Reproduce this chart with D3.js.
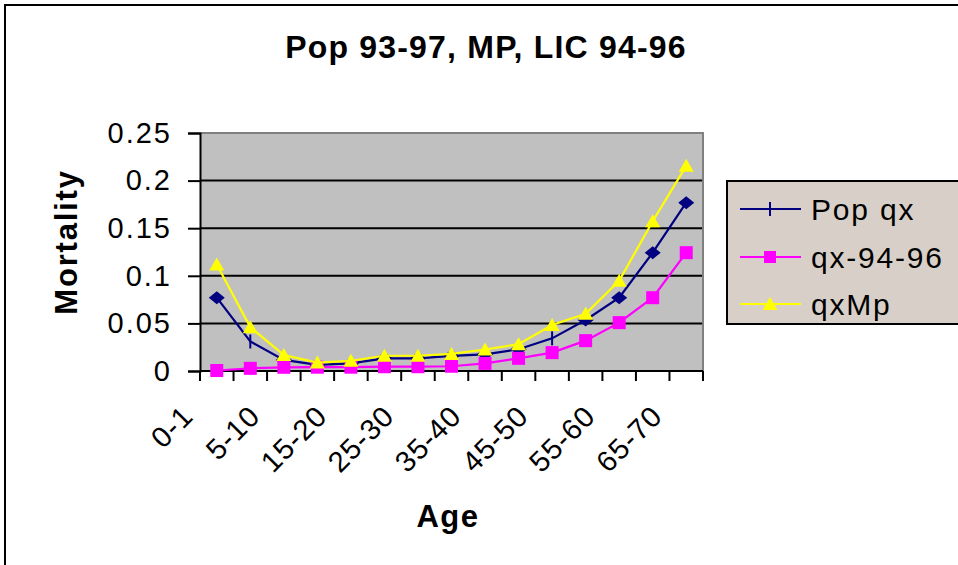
<!DOCTYPE html>
<html>
<head>
<meta charset="utf-8">
<script src="https://cdn.jsdelivr.net/npm/d3@7"></script>
<style>
  html, body { margin: 0; padding: 0; background: #ffffff; }
  svg { display: block; font-family: "Liberation Sans", Arial, sans-serif; }
</style>
</head>
<body>
<svg id="chart" width="958" height="565"></svg>
<script>
// ---- data ----
const categories = ["0-1","1-5","5-10","10-15","15-20","20-25","25-30","30-35","35-40","40-45","45-50","50-55","55-60","60-65","65-70"];
const popQx   = [0.077, 0.031, 0.0116, 0.0065, 0.008, 0.0133, 0.0133, 0.0158, 0.0175, 0.0228, 0.0343, 0.0536, 0.077, 0.1243, 0.1768];
const qx9496  = [0.0005, 0.0028, 0.0039, 0.004, 0.004, 0.0045, 0.0045, 0.005, 0.008, 0.0133, 0.0193, 0.0319, 0.0508, 0.077, 0.1243];
const qxMp    = [0.1119, 0.046, 0.0168, 0.0089, 0.0107, 0.016, 0.016, 0.0179, 0.0226, 0.0282, 0.0483, 0.0602, 0.0947, 0.1573, 0.2155];
const yTicks  = [0, 0.05, 0.1, 0.15, 0.2, 0.25];
const yTickLabels = ["0", "0.05", "0.1", "0.15", "0.2", "0.25"];
const seriesNames = ["Pop qx", "qx-94-96", "qxMp"];
const titleText = "Pop 93-97, MP, LIC 94-96";
const xTitle = "Age";
const yTitle = "Mortality";

// ---- layout ----
const svg = d3.select("#chart");
const plot = { left: 200, right: 703, top: 133, bottom: 371 };

const x = d3.scaleBand().domain(categories).range([plot.left, plot.right]).paddingInner(0).paddingOuter(0);
const y = d3.scaleLinear().domain([0, 0.25]).range([plot.bottom, plot.top]);
const cx = c => x(c) + x.bandwidth() / 2;

// outer chart border (only top/left visible)
svg.append("rect").attr("x", 5).attr("y", 5).attr("width", 1000).attr("height", 700)
  .attr("fill", "#ffffff").attr("stroke", "#000").attr("stroke-width", 2);

// title
svg.append("text").attr("x", 486).attr("y", 58).attr("text-anchor", "middle")
  .attr("font-size", 32).attr("font-weight", "bold").attr("letter-spacing", 1.2)
  .text(titleText);

// plot background
svg.append("rect").attr("x", plot.left).attr("y", plot.top)
  .attr("width", plot.right - plot.left).attr("height", plot.bottom - plot.top)
  .attr("fill", "#c0c0c0");

// gridlines
svg.append("g").selectAll("line").data(yTicks.filter(t => t > 0 && t < 0.25)).join("line")
  .attr("x1", plot.left).attr("x2", plot.right)
  .attr("y1", d => y(d)).attr("y2", d => y(d))
  .attr("stroke", "#000").attr("stroke-width", 2);

// plot border top/right grey
svg.append("path")
  .attr("d", `M${plot.left},${plot.top}H${plot.right}V${plot.bottom}`)
  .attr("fill", "none").attr("stroke", "#808080").attr("stroke-width", 2);

// y axis
const yAxis = d3.axisLeft(y).tickValues(yTicks).tickFormat((d, i) => yTickLabels[i]).tickSize(12).tickPadding(18);
const gy = svg.append("g").attr("transform", `translate(${plot.left},0)`).call(yAxis);
gy.select(".domain").attr("stroke", "#000").attr("stroke-width", 2);
gy.selectAll(".tick line").attr("stroke", "#000").attr("stroke-width", 2);
gy.selectAll(".tick text").attr("font-size", 29).attr("fill", "#000")
  .attr("font-family", "Liberation Sans, Arial, sans-serif").attr("letter-spacing", 2)
  .attr("x", -28);

// x axis with boundary ticks
const xAxisG = svg.append("g").attr("transform", `translate(0,${plot.bottom})`);
xAxisG.append("line").attr("x1", plot.left).attr("x2", plot.right).attr("y1", 0).attr("y2", 0)
  .attr("stroke", "#000").attr("stroke-width", 2);
const boundaries = categories.map(c => x(c)).concat([x(categories[categories.length - 1]) + x.bandwidth()]);
xAxisG.selectAll("line.tk").data(boundaries).join("line").attr("class", "tk")
  .attr("x1", d => d).attr("x2", d => d).attr("y1", 0).attr("y2", 10)
  .attr("stroke", "#000").attr("stroke-width", 2);
const xAxis = d3.axisBottom(x).tickValues(categories.filter((c, i) => i % 2 === 0)).tickSize(0);
const gx = svg.append("g").attr("transform", `translate(0,${plot.bottom})`).call(xAxis);
gx.select(".domain").remove();
gx.selectAll(".tick text").attr("font-size", 29).attr("fill", "#000")
  .attr("font-family", "Liberation Sans, Arial, sans-serif").attr("letter-spacing", 1)
  .attr("text-anchor", "end").attr("y", 0).attr("dy", 0)
  .attr("transform", "translate(-22,47) rotate(-45)");

// axis titles
svg.append("text").attr("x", 448).attr("y", 527).attr("text-anchor", "middle")
  .attr("font-size", 31).attr("font-weight", "bold").attr("letter-spacing", 1.5).text(xTitle);
svg.append("text").attr("transform", "translate(77,242) rotate(-90)").attr("text-anchor", "middle")
  .attr("font-size", 31).attr("font-weight", "bold").attr("letter-spacing", 1.8).text(yTitle);

// series
const line = d3.line().x((d, i) => cx(categories[i])).y(d => y(d));
const colors = ["#000080", "#ff00ff", "#ffff00"];

function diamond(g, px, py, color) {
  g.append("path").attr("d", `M${px - 8},${py}L${px},${py - 6.5}L${px + 8},${py}L${px},${py + 6.5}Z`).attr("fill", color);
}
function tickMark(g, px, py, color) {
  g.append("line").attr("x1", px).attr("x2", px).attr("y1", py - 7).attr("y2", py + 7)
    .attr("stroke", color).attr("stroke-width", 2);
}
function square(g, px, py, color) {
  g.append("rect").attr("x", px - 6.5).attr("y", py - 6.5).attr("width", 13).attr("height", 13).attr("fill", color);
}
function triangle(g, px, py, color) {
  g.append("path").attr("d", `M${px},${py - 7}L${px + 7.5},${py + 6}L${px - 7.5},${py + 6}Z`).attr("fill", color);
}

const sPop = svg.append("g");
sPop.append("path").datum(popQx).attr("d", line).attr("fill", "none").attr("stroke", colors[0]).attr("stroke-width", 2.2);
popQx.forEach((v, i) => {
  const px = cx(categories[i]), py = y(v);
  if (i === 1 || i === 10) tickMark(sPop, px, py, colors[0]); else diamond(sPop, px, py, colors[0]);
});

const sQx = svg.append("g");
sQx.append("path").datum(qx9496).attr("d", line).attr("fill", "none").attr("stroke", colors[1]).attr("stroke-width", 2.2);
qx9496.forEach((v, i) => square(sQx, cx(categories[i]), y(v), colors[1]));

const sMp = svg.append("g");
sMp.append("path").datum(qxMp).attr("d", line).attr("fill", "none").attr("stroke", colors[2]).attr("stroke-width", 2.2);
qxMp.forEach((v, i) => triangle(sMp, cx(categories[i]), y(v), colors[2]));

// legend
const lg = svg.append("g");
lg.append("rect").attr("x", 727).attr("y", 181).attr("width", 260).attr("height", 143)
  .attr("fill", "#d8d0c8").attr("stroke", "#000").attr("stroke-width", 2);
const rows = [209, 257, 304];
seriesNames.forEach((name, i) => {
  const ry = rows[i];
  lg.append("line").attr("x1", 740).attr("x2", 801).attr("y1", ry).attr("y2", ry)
    .attr("stroke", colors[i]).attr("stroke-width", 2);
  if (i === 0) tickMark(lg, 770, ry, colors[0]);
  if (i === 1) lg.append("rect").attr("x", 764).attr("y", ry - 6).attr("width", 12).attr("height", 12).attr("fill", colors[1]);
  if (i === 2) triangle(lg, 770, ry, colors[2]);
  lg.append("text").attr("x", 811).attr("y", ry).attr("dy", "0.35em")
    .attr("font-size", 30).attr("letter-spacing", 1.8).text(name);
});
</script>
</body>
</html>
